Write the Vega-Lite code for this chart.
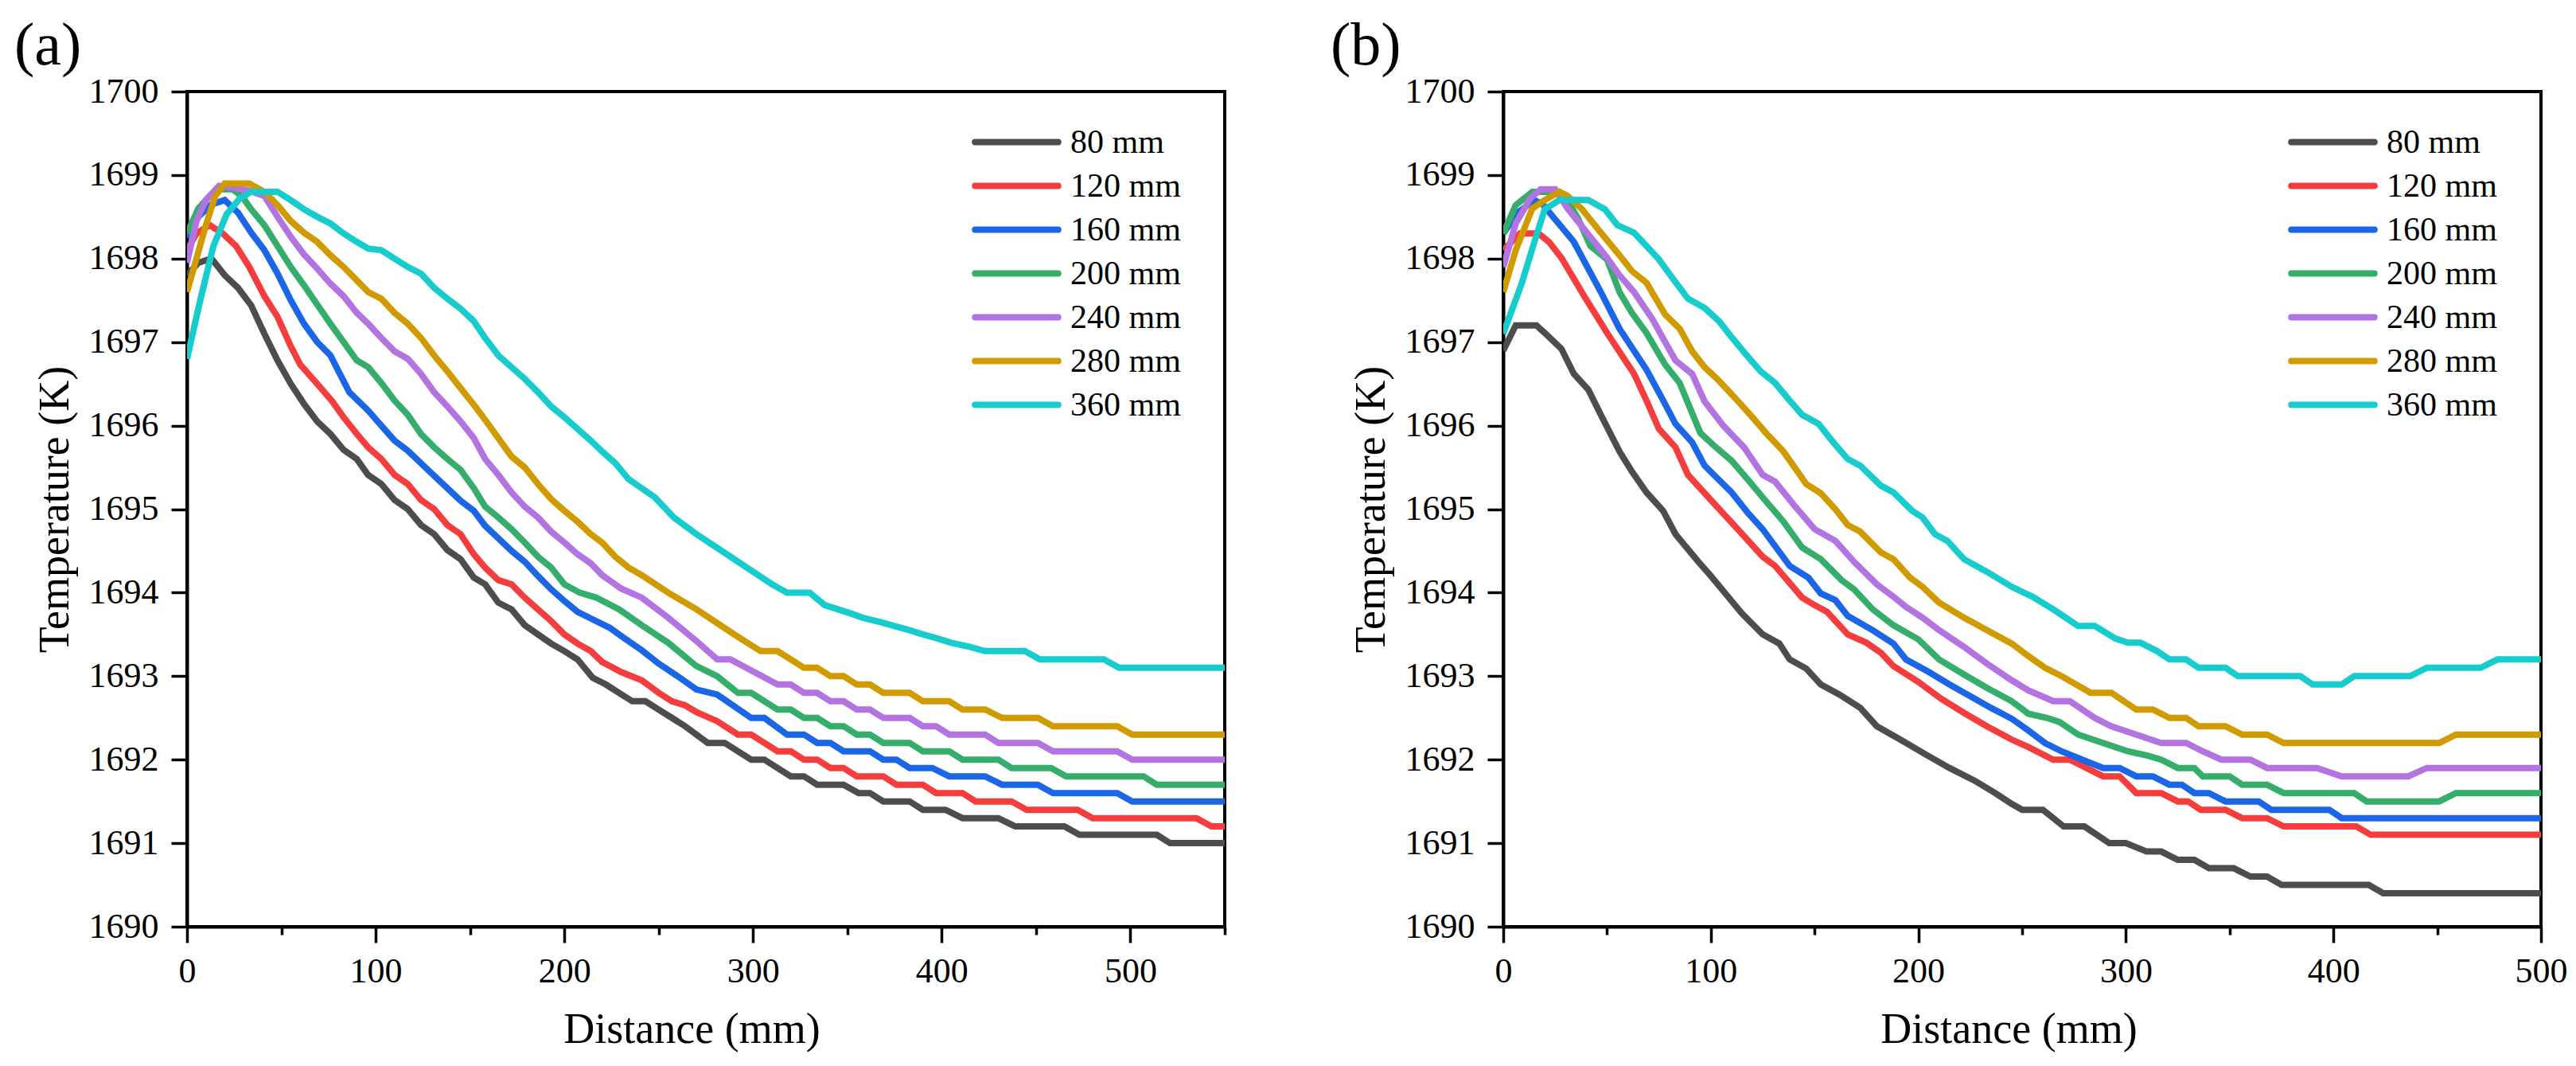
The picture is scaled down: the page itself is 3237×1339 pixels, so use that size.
{
  "$schema": "https://vega.github.io/schema/vega-lite/v6.json",
  "padding": {"left": 16, "top": 18, "right": 13, "bottom": 8},
  "config": {
    "font": "Liberation Serif, Times New Roman, DejaVu Serif, serif",
    "view": {"stroke": "black", "strokeWidth": 4},
    "style": {
      "guide-label": {"font": "Liberation Serif, Times New Roman, DejaVu Serif, serif"},
      "guide-title": {"font": "Liberation Serif, Times New Roman, DejaVu Serif, serif"}
    },
    "axis": {
      "domainColor": "black", "domainWidth": 4,
      "tickColor": "black", "tickWidth": 3.5,
      "labelFont": "Liberation Serif, Times New Roman, DejaVu Serif, serif", "labelFontSize": 44, "labelColor": "black",
      "titleFont": "Liberation Serif, Times New Roman, DejaVu Serif, serif", "titleFontSize": 54, "titleFontWeight": "normal", "titleColor": "black",
      "grid": false, "labelOverlap": false, "labelFlush": false
    },
    "legend": {
      "labelFont": "Liberation Serif, Times New Roman, DejaVu Serif, serif", "labelFontSize": 42, "labelColor": "black"
    },
    "title": {"font": "Liberation Serif, Times New Roman, DejaVu Serif, serif", "fontSize": 76, "fontWeight": "normal", "color": "black"}
  },
  "datasets": {
    "temps": [
      {"p":"a","s":"80 mm","d":0,"t":1697.8},{"p":"a","s":"80 mm","d":6,"t":1697.95},{"p":"a","s":"80 mm","d":13,"t":1698.0},{"p":"a","s":"80 mm","d":20,"t":1697.8},{"p":"a","s":"80 mm","d":27,"t":1697.65},{"p":"a","s":"80 mm","d":34,"t":1697.44},{"p":"a","s":"80 mm","d":41,"t":1697.1},{"p":"a","s":"80 mm","d":48,"t":1696.78},{"p":"a","s":"80 mm","d":55,"t":1696.5},{"p":"a","s":"80 mm","d":62,"t":1696.26},{"p":"a","s":"80 mm","d":69,"t":1696.05},{"p":"a","s":"80 mm","d":76,"t":1695.9},{"p":"a","s":"80 mm","d":83,"t":1695.71},{"p":"a","s":"80 mm","d":90,"t":1695.6},{"p":"a","s":"80 mm","d":96,"t":1695.41},{"p":"a","s":"80 mm","d":103,"t":1695.3},{"p":"a","s":"80 mm","d":110,"t":1695.11},{"p":"a","s":"80 mm","d":117,"t":1695.0},{"p":"a","s":"80 mm","d":124,"t":1694.81},{"p":"a","s":"80 mm","d":131,"t":1694.7},{"p":"a","s":"80 mm","d":138,"t":1694.51},{"p":"a","s":"80 mm","d":145,"t":1694.4},{"p":"a","s":"80 mm","d":152,"t":1694.18},{"p":"a","s":"80 mm","d":158,"t":1694.1},{"p":"a","s":"80 mm","d":165,"t":1693.88},{"p":"a","s":"80 mm","d":172,"t":1693.8},{"p":"a","s":"80 mm","d":179,"t":1693.61},{"p":"a","s":"80 mm","d":186,"t":1693.5},{"p":"a","s":"80 mm","d":193,"t":1693.39},{"p":"a","s":"80 mm","d":200,"t":1693.3},{"p":"a","s":"80 mm","d":207,"t":1693.2},{"p":"a","s":"80 mm","d":215,"t":1692.98},{"p":"a","s":"80 mm","d":222,"t":1692.9},{"p":"a","s":"80 mm","d":229,"t":1692.8},{"p":"a","s":"80 mm","d":236,"t":1692.7},{"p":"a","s":"80 mm","d":243,"t":1692.7},{"p":"a","s":"80 mm","d":250,"t":1692.6},{"p":"a","s":"80 mm","d":257,"t":1692.5},{"p":"a","s":"80 mm","d":264,"t":1692.4},{"p":"a","s":"80 mm","d":270,"t":1692.3},{"p":"a","s":"80 mm","d":276,"t":1692.2},{"p":"a","s":"80 mm","d":285,"t":1692.2},{"p":"a","s":"80 mm","d":299,"t":1692.0},{"p":"a","s":"80 mm","d":306,"t":1692.0},{"p":"a","s":"80 mm","d":320,"t":1691.8},{"p":"a","s":"80 mm","d":327,"t":1691.8},{"p":"a","s":"80 mm","d":334,"t":1691.7},{"p":"a","s":"80 mm","d":348,"t":1691.7},{"p":"a","s":"80 mm","d":356,"t":1691.6},{"p":"a","s":"80 mm","d":362,"t":1691.6},{"p":"a","s":"80 mm","d":369,"t":1691.5},{"p":"a","s":"80 mm","d":383,"t":1691.5},{"p":"a","s":"80 mm","d":390,"t":1691.4},{"p":"a","s":"80 mm","d":402,"t":1691.4},{"p":"a","s":"80 mm","d":411,"t":1691.3},{"p":"a","s":"80 mm","d":430,"t":1691.3},{"p":"a","s":"80 mm","d":439,"t":1691.2},{"p":"a","s":"80 mm","d":465,"t":1691.2},{"p":"a","s":"80 mm","d":473,"t":1691.1},{"p":"a","s":"80 mm","d":514,"t":1691.1},{"p":"a","s":"80 mm","d":521,"t":1691.0},{"p":"a","s":"80 mm","d":550,"t":1691.0},

      {"p":"a","s":"120 mm","d":0,"t":1698.1},{"p":"a","s":"120 mm","d":5,"t":1698.3},{"p":"a","s":"120 mm","d":12,"t":1698.4},{"p":"a","s":"120 mm","d":19,"t":1698.3},{"p":"a","s":"120 mm","d":26,"t":1698.15},{"p":"a","s":"120 mm","d":33,"t":1697.9},{"p":"a","s":"120 mm","d":41,"t":1697.55},{"p":"a","s":"120 mm","d":48,"t":1697.3},{"p":"a","s":"120 mm","d":55,"t":1696.95},{"p":"a","s":"120 mm","d":60,"t":1696.73},{"p":"a","s":"120 mm","d":69,"t":1696.5},{"p":"a","s":"120 mm","d":77,"t":1696.29},{"p":"a","s":"120 mm","d":83,"t":1696.1},{"p":"a","s":"120 mm","d":90,"t":1695.9},{"p":"a","s":"120 mm","d":96,"t":1695.74},{"p":"a","s":"120 mm","d":103,"t":1695.6},{"p":"a","s":"120 mm","d":110,"t":1695.41},{"p":"a","s":"120 mm","d":117,"t":1695.3},{"p":"a","s":"120 mm","d":124,"t":1695.11},{"p":"a","s":"120 mm","d":131,"t":1695.0},{"p":"a","s":"120 mm","d":138,"t":1694.81},{"p":"a","s":"120 mm","d":145,"t":1694.7},{"p":"a","s":"120 mm","d":152,"t":1694.46},{"p":"a","s":"120 mm","d":158,"t":1694.3},{"p":"a","s":"120 mm","d":165,"t":1694.15},{"p":"a","s":"120 mm","d":172,"t":1694.1},{"p":"a","s":"120 mm","d":179,"t":1693.94},{"p":"a","s":"120 mm","d":186,"t":1693.8},{"p":"a","s":"120 mm","d":193,"t":1693.66},{"p":"a","s":"120 mm","d":200,"t":1693.5},{"p":"a","s":"120 mm","d":207,"t":1693.39},{"p":"a","s":"120 mm","d":214,"t":1693.3},{"p":"a","s":"120 mm","d":220,"t":1693.17},{"p":"a","s":"120 mm","d":230,"t":1693.05},{"p":"a","s":"120 mm","d":241,"t":1692.95},{"p":"a","s":"120 mm","d":250,"t":1692.8},{"p":"a","s":"120 mm","d":257,"t":1692.7},{"p":"a","s":"120 mm","d":264,"t":1692.65},{"p":"a","s":"120 mm","d":270,"t":1692.57},{"p":"a","s":"120 mm","d":281,"t":1692.46},{"p":"a","s":"120 mm","d":292,"t":1692.3},{"p":"a","s":"120 mm","d":299,"t":1692.3},{"p":"a","s":"120 mm","d":313,"t":1692.1},{"p":"a","s":"120 mm","d":320,"t":1692.1},{"p":"a","s":"120 mm","d":327,"t":1692.0},{"p":"a","s":"120 mm","d":334,"t":1692.0},{"p":"a","s":"120 mm","d":341,"t":1691.9},{"p":"a","s":"120 mm","d":348,"t":1691.9},{"p":"a","s":"120 mm","d":355,"t":1691.8},{"p":"a","s":"120 mm","d":369,"t":1691.8},{"p":"a","s":"120 mm","d":376,"t":1691.7},{"p":"a","s":"120 mm","d":390,"t":1691.7},{"p":"a","s":"120 mm","d":397,"t":1691.6},{"p":"a","s":"120 mm","d":411,"t":1691.6},{"p":"a","s":"120 mm","d":418,"t":1691.5},{"p":"a","s":"120 mm","d":437,"t":1691.5},{"p":"a","s":"120 mm","d":445,"t":1691.4},{"p":"a","s":"120 mm","d":472,"t":1691.4},{"p":"a","s":"120 mm","d":480,"t":1691.3},{"p":"a","s":"120 mm","d":535,"t":1691.3},{"p":"a","s":"120 mm","d":543,"t":1691.2},{"p":"a","s":"120 mm","d":550,"t":1691.2},

      {"p":"a","s":"160 mm","d":0,"t":1698.25},{"p":"a","s":"160 mm","d":6,"t":1698.5},{"p":"a","s":"160 mm","d":13,"t":1698.65},{"p":"a","s":"160 mm","d":20,"t":1698.7},{"p":"a","s":"160 mm","d":27,"t":1698.55},{"p":"a","s":"160 mm","d":34,"t":1698.31},{"p":"a","s":"160 mm","d":41,"t":1698.1},{"p":"a","s":"160 mm","d":48,"t":1697.82},{"p":"a","s":"160 mm","d":55,"t":1697.5},{"p":"a","s":"160 mm","d":62,"t":1697.22},{"p":"a","s":"160 mm","d":69,"t":1697.0},{"p":"a","s":"160 mm","d":76,"t":1696.84},{"p":"a","s":"160 mm","d":86,"t":1696.4},{"p":"a","s":"160 mm","d":96,"t":1696.18},{"p":"a","s":"160 mm","d":103,"t":1696.0},{"p":"a","s":"160 mm","d":110,"t":1695.82},{"p":"a","s":"160 mm","d":117,"t":1695.7},{"p":"a","s":"160 mm","d":124,"t":1695.55},{"p":"a","s":"160 mm","d":131,"t":1695.4},{"p":"a","s":"160 mm","d":138,"t":1695.25},{"p":"a","s":"160 mm","d":145,"t":1695.1},{"p":"a","s":"160 mm","d":152,"t":1694.98},{"p":"a","s":"160 mm","d":158,"t":1694.8},{"p":"a","s":"160 mm","d":165,"t":1694.65},{"p":"a","s":"160 mm","d":172,"t":1694.5},{"p":"a","s":"160 mm","d":179,"t":1694.37},{"p":"a","s":"160 mm","d":186,"t":1694.2},{"p":"a","s":"160 mm","d":193,"t":1694.04},{"p":"a","s":"160 mm","d":200,"t":1693.9},{"p":"a","s":"160 mm","d":207,"t":1693.77},{"p":"a","s":"160 mm","d":215,"t":1693.68},{"p":"a","s":"160 mm","d":224,"t":1693.58},{"p":"a","s":"160 mm","d":232,"t":1693.45},{"p":"a","s":"160 mm","d":241,"t":1693.31},{"p":"a","s":"160 mm","d":250,"t":1693.15},{"p":"a","s":"160 mm","d":260,"t":1693.0},{"p":"a","s":"160 mm","d":270,"t":1692.84},{"p":"a","s":"160 mm","d":281,"t":1692.78},{"p":"a","s":"160 mm","d":299,"t":1692.5},{"p":"a","s":"160 mm","d":306,"t":1692.5},{"p":"a","s":"160 mm","d":318,"t":1692.3},{"p":"a","s":"160 mm","d":327,"t":1692.3},{"p":"a","s":"160 mm","d":334,"t":1692.2},{"p":"a","s":"160 mm","d":341,"t":1692.2},{"p":"a","s":"160 mm","d":348,"t":1692.1},{"p":"a","s":"160 mm","d":362,"t":1692.1},{"p":"a","s":"160 mm","d":369,"t":1692.0},{"p":"a","s":"160 mm","d":376,"t":1692.0},{"p":"a","s":"160 mm","d":383,"t":1691.9},{"p":"a","s":"160 mm","d":395,"t":1691.9},{"p":"a","s":"160 mm","d":404,"t":1691.8},{"p":"a","s":"160 mm","d":423,"t":1691.8},{"p":"a","s":"160 mm","d":432,"t":1691.7},{"p":"a","s":"160 mm","d":451,"t":1691.7},{"p":"a","s":"160 mm","d":459,"t":1691.6},{"p":"a","s":"160 mm","d":493,"t":1691.6},{"p":"a","s":"160 mm","d":501,"t":1691.5},{"p":"a","s":"160 mm","d":550,"t":1691.5},

      {"p":"a","s":"200 mm","d":0,"t":1698.3},{"p":"a","s":"200 mm","d":6,"t":1698.6},{"p":"a","s":"200 mm","d":12,"t":1698.75},{"p":"a","s":"200 mm","d":18,"t":1698.83},{"p":"a","s":"200 mm","d":24,"t":1698.83},{"p":"a","s":"200 mm","d":29,"t":1698.75},{"p":"a","s":"200 mm","d":34,"t":1698.59},{"p":"a","s":"200 mm","d":41,"t":1698.4},{"p":"a","s":"200 mm","d":48,"t":1698.15},{"p":"a","s":"200 mm","d":55,"t":1697.9},{"p":"a","s":"200 mm","d":62,"t":1697.68},{"p":"a","s":"200 mm","d":69,"t":1697.45},{"p":"a","s":"200 mm","d":76,"t":1697.22},{"p":"a","s":"200 mm","d":83,"t":1697.0},{"p":"a","s":"200 mm","d":90,"t":1696.78},{"p":"a","s":"200 mm","d":96,"t":1696.7},{"p":"a","s":"200 mm","d":103,"t":1696.51},{"p":"a","s":"200 mm","d":110,"t":1696.3},{"p":"a","s":"200 mm","d":117,"t":1696.13},{"p":"a","s":"200 mm","d":124,"t":1695.9},{"p":"a","s":"200 mm","d":131,"t":1695.74},{"p":"a","s":"200 mm","d":138,"t":1695.6},{"p":"a","s":"200 mm","d":145,"t":1695.47},{"p":"a","s":"200 mm","d":152,"t":1695.25},{"p":"a","s":"200 mm","d":158,"t":1695.03},{"p":"a","s":"200 mm","d":165,"t":1694.9},{"p":"a","s":"200 mm","d":172,"t":1694.76},{"p":"a","s":"200 mm","d":179,"t":1694.6},{"p":"a","s":"200 mm","d":186,"t":1694.43},{"p":"a","s":"200 mm","d":193,"t":1694.3},{"p":"a","s":"200 mm","d":200,"t":1694.1},{"p":"a","s":"200 mm","d":208,"t":1694.0},{"p":"a","s":"200 mm","d":217,"t":1693.94},{"p":"a","s":"200 mm","d":229,"t":1693.8},{"p":"a","s":"200 mm","d":241,"t":1693.61},{"p":"a","s":"200 mm","d":255,"t":1693.4},{"p":"a","s":"200 mm","d":270,"t":1693.12},{"p":"a","s":"200 mm","d":281,"t":1693.0},{"p":"a","s":"200 mm","d":292,"t":1692.8},{"p":"a","s":"200 mm","d":299,"t":1692.8},{"p":"a","s":"200 mm","d":313,"t":1692.6},{"p":"a","s":"200 mm","d":320,"t":1692.6},{"p":"a","s":"200 mm","d":327,"t":1692.5},{"p":"a","s":"200 mm","d":334,"t":1692.5},{"p":"a","s":"200 mm","d":341,"t":1692.4},{"p":"a","s":"200 mm","d":348,"t":1692.4},{"p":"a","s":"200 mm","d":355,"t":1692.3},{"p":"a","s":"200 mm","d":362,"t":1692.3},{"p":"a","s":"200 mm","d":369,"t":1692.2},{"p":"a","s":"200 mm","d":383,"t":1692.2},{"p":"a","s":"200 mm","d":390,"t":1692.1},{"p":"a","s":"200 mm","d":404,"t":1692.1},{"p":"a","s":"200 mm","d":411,"t":1692.0},{"p":"a","s":"200 mm","d":430,"t":1692.0},{"p":"a","s":"200 mm","d":437,"t":1691.9},{"p":"a","s":"200 mm","d":458,"t":1691.9},{"p":"a","s":"200 mm","d":466,"t":1691.8},{"p":"a","s":"200 mm","d":507,"t":1691.8},{"p":"a","s":"200 mm","d":514,"t":1691.7},{"p":"a","s":"200 mm","d":550,"t":1691.7},

      {"p":"a","s":"240 mm","d":0,"t":1697.95},{"p":"a","s":"240 mm","d":5,"t":1698.45},{"p":"a","s":"240 mm","d":10,"t":1698.7},{"p":"a","s":"240 mm","d":17,"t":1698.87},{"p":"a","s":"240 mm","d":24,"t":1698.85},{"p":"a","s":"240 mm","d":32,"t":1698.82},{"p":"a","s":"240 mm","d":41,"t":1698.75},{"p":"a","s":"240 mm","d":48,"t":1698.5},{"p":"a","s":"240 mm","d":55,"t":1698.26},{"p":"a","s":"240 mm","d":62,"t":1698.05},{"p":"a","s":"240 mm","d":69,"t":1697.88},{"p":"a","s":"240 mm","d":76,"t":1697.7},{"p":"a","s":"240 mm","d":83,"t":1697.55},{"p":"a","s":"240 mm","d":90,"t":1697.35},{"p":"a","s":"240 mm","d":96,"t":1697.22},{"p":"a","s":"240 mm","d":103,"t":1697.05},{"p":"a","s":"240 mm","d":110,"t":1696.89},{"p":"a","s":"240 mm","d":117,"t":1696.8},{"p":"a","s":"240 mm","d":124,"t":1696.62},{"p":"a","s":"240 mm","d":131,"t":1696.4},{"p":"a","s":"240 mm","d":138,"t":1696.23},{"p":"a","s":"240 mm","d":145,"t":1696.05},{"p":"a","s":"240 mm","d":152,"t":1695.85},{"p":"a","s":"240 mm","d":158,"t":1695.6},{"p":"a","s":"240 mm","d":165,"t":1695.41},{"p":"a","s":"240 mm","d":172,"t":1695.2},{"p":"a","s":"240 mm","d":179,"t":1695.03},{"p":"a","s":"240 mm","d":186,"t":1694.9},{"p":"a","s":"240 mm","d":193,"t":1694.73},{"p":"a","s":"240 mm","d":200,"t":1694.6},{"p":"a","s":"240 mm","d":207,"t":1694.46},{"p":"a","s":"240 mm","d":214,"t":1694.35},{"p":"a","s":"240 mm","d":220,"t":1694.21},{"p":"a","s":"240 mm","d":230,"t":1694.05},{"p":"a","s":"240 mm","d":241,"t":1693.94},{"p":"a","s":"240 mm","d":255,"t":1693.7},{"p":"a","s":"240 mm","d":270,"t":1693.42},{"p":"a","s":"240 mm","d":281,"t":1693.2},{"p":"a","s":"240 mm","d":288,"t":1693.2},{"p":"a","s":"240 mm","d":313,"t":1692.9},{"p":"a","s":"240 mm","d":320,"t":1692.9},{"p":"a","s":"240 mm","d":327,"t":1692.8},{"p":"a","s":"240 mm","d":334,"t":1692.8},{"p":"a","s":"240 mm","d":341,"t":1692.7},{"p":"a","s":"240 mm","d":348,"t":1692.7},{"p":"a","s":"240 mm","d":355,"t":1692.6},{"p":"a","s":"240 mm","d":362,"t":1692.6},{"p":"a","s":"240 mm","d":369,"t":1692.5},{"p":"a","s":"240 mm","d":383,"t":1692.5},{"p":"a","s":"240 mm","d":390,"t":1692.4},{"p":"a","s":"240 mm","d":397,"t":1692.4},{"p":"a","s":"240 mm","d":404,"t":1692.3},{"p":"a","s":"240 mm","d":423,"t":1692.3},{"p":"a","s":"240 mm","d":430,"t":1692.2},{"p":"a","s":"240 mm","d":451,"t":1692.2},{"p":"a","s":"240 mm","d":459,"t":1692.1},{"p":"a","s":"240 mm","d":493,"t":1692.1},{"p":"a","s":"240 mm","d":501,"t":1692.0},{"p":"a","s":"240 mm","d":550,"t":1692.0},

      {"p":"a","s":"280 mm","d":0,"t":1697.6},{"p":"a","s":"280 mm","d":5,"t":1698.0},{"p":"a","s":"280 mm","d":10,"t":1698.4},{"p":"a","s":"280 mm","d":15,"t":1698.75},{"p":"a","s":"280 mm","d":20,"t":1698.9},{"p":"a","s":"280 mm","d":33,"t":1698.9},{"p":"a","s":"280 mm","d":41,"t":1698.8},{"p":"a","s":"280 mm","d":48,"t":1698.64},{"p":"a","s":"280 mm","d":55,"t":1698.45},{"p":"a","s":"280 mm","d":62,"t":1698.31},{"p":"a","s":"280 mm","d":69,"t":1698.2},{"p":"a","s":"280 mm","d":76,"t":1698.04},{"p":"a","s":"280 mm","d":83,"t":1697.9},{"p":"a","s":"280 mm","d":90,"t":1697.74},{"p":"a","s":"280 mm","d":96,"t":1697.6},{"p":"a","s":"280 mm","d":103,"t":1697.52},{"p":"a","s":"280 mm","d":110,"t":1697.35},{"p":"a","s":"280 mm","d":117,"t":1697.22},{"p":"a","s":"280 mm","d":124,"t":1697.05},{"p":"a","s":"280 mm","d":131,"t":1696.84},{"p":"a","s":"280 mm","d":138,"t":1696.65},{"p":"a","s":"280 mm","d":145,"t":1696.45},{"p":"a","s":"280 mm","d":152,"t":1696.25},{"p":"a","s":"280 mm","d":158,"t":1696.07},{"p":"a","s":"280 mm","d":165,"t":1695.85},{"p":"a","s":"280 mm","d":172,"t":1695.63},{"p":"a","s":"280 mm","d":179,"t":1695.5},{"p":"a","s":"280 mm","d":186,"t":1695.3},{"p":"a","s":"280 mm","d":193,"t":1695.12},{"p":"a","s":"280 mm","d":200,"t":1694.98},{"p":"a","s":"280 mm","d":207,"t":1694.85},{"p":"a","s":"280 mm","d":214,"t":1694.7},{"p":"a","s":"280 mm","d":220,"t":1694.6},{"p":"a","s":"280 mm","d":227,"t":1694.43},{"p":"a","s":"280 mm","d":234,"t":1694.3},{"p":"a","s":"280 mm","d":241,"t":1694.21},{"p":"a","s":"280 mm","d":255,"t":1694.0},{"p":"a","s":"280 mm","d":270,"t":1693.8},{"p":"a","s":"280 mm","d":280,"t":1693.65},{"p":"a","s":"280 mm","d":290,"t":1693.5},{"p":"a","s":"280 mm","d":297,"t":1693.4},{"p":"a","s":"280 mm","d":304,"t":1693.3},{"p":"a","s":"280 mm","d":313,"t":1693.3},{"p":"a","s":"280 mm","d":327,"t":1693.1},{"p":"a","s":"280 mm","d":334,"t":1693.1},{"p":"a","s":"280 mm","d":341,"t":1693.0},{"p":"a","s":"280 mm","d":348,"t":1693.0},{"p":"a","s":"280 mm","d":355,"t":1692.9},{"p":"a","s":"280 mm","d":362,"t":1692.9},{"p":"a","s":"280 mm","d":369,"t":1692.8},{"p":"a","s":"280 mm","d":383,"t":1692.8},{"p":"a","s":"280 mm","d":390,"t":1692.7},{"p":"a","s":"280 mm","d":404,"t":1692.7},{"p":"a","s":"280 mm","d":411,"t":1692.6},{"p":"a","s":"280 mm","d":423,"t":1692.6},{"p":"a","s":"280 mm","d":432,"t":1692.5},{"p":"a","s":"280 mm","d":451,"t":1692.5},{"p":"a","s":"280 mm","d":459,"t":1692.4},{"p":"a","s":"280 mm","d":493,"t":1692.4},{"p":"a","s":"280 mm","d":501,"t":1692.3},{"p":"a","s":"280 mm","d":550,"t":1692.3},

      {"p":"a","s":"360 mm","d":0,"t":1696.8},{"p":"a","s":"360 mm","d":7,"t":1697.5},{"p":"a","s":"360 mm","d":14,"t":1698.15},{"p":"a","s":"360 mm","d":21,"t":1698.53},{"p":"a","s":"360 mm","d":28,"t":1698.72},{"p":"a","s":"360 mm","d":34,"t":1698.8},{"p":"a","s":"360 mm","d":48,"t":1698.8},{"p":"a","s":"360 mm","d":55,"t":1698.7},{"p":"a","s":"360 mm","d":62,"t":1698.59},{"p":"a","s":"360 mm","d":69,"t":1698.5},{"p":"a","s":"360 mm","d":76,"t":1698.42},{"p":"a","s":"360 mm","d":83,"t":1698.3},{"p":"a","s":"360 mm","d":90,"t":1698.2},{"p":"a","s":"360 mm","d":96,"t":1698.12},{"p":"a","s":"360 mm","d":103,"t":1698.1},{"p":"a","s":"360 mm","d":110,"t":1698.0},{"p":"a","s":"360 mm","d":117,"t":1697.9},{"p":"a","s":"360 mm","d":124,"t":1697.82},{"p":"a","s":"360 mm","d":131,"t":1697.65},{"p":"a","s":"360 mm","d":138,"t":1697.52},{"p":"a","s":"360 mm","d":145,"t":1697.4},{"p":"a","s":"360 mm","d":152,"t":1697.25},{"p":"a","s":"360 mm","d":158,"t":1697.05},{"p":"a","s":"360 mm","d":165,"t":1696.84},{"p":"a","s":"360 mm","d":172,"t":1696.7},{"p":"a","s":"360 mm","d":179,"t":1696.56},{"p":"a","s":"360 mm","d":186,"t":1696.4},{"p":"a","s":"360 mm","d":193,"t":1696.23},{"p":"a","s":"360 mm","d":200,"t":1696.1},{"p":"a","s":"360 mm","d":207,"t":1695.96},{"p":"a","s":"360 mm","d":214,"t":1695.82},{"p":"a","s":"360 mm","d":220,"t":1695.69},{"p":"a","s":"360 mm","d":227,"t":1695.55},{"p":"a","s":"360 mm","d":234,"t":1695.36},{"p":"a","s":"360 mm","d":241,"t":1695.25},{"p":"a","s":"360 mm","d":248,"t":1695.14},{"p":"a","s":"360 mm","d":258,"t":1694.9},{"p":"a","s":"360 mm","d":270,"t":1694.7},{"p":"a","s":"360 mm","d":280,"t":1694.55},{"p":"a","s":"360 mm","d":290,"t":1694.4},{"p":"a","s":"360 mm","d":300,"t":1694.25},{"p":"a","s":"360 mm","d":310,"t":1694.1},{"p":"a","s":"360 mm","d":318,"t":1694.0},{"p":"a","s":"360 mm","d":330,"t":1694.0},{"p":"a","s":"360 mm","d":338,"t":1693.85},{"p":"a","s":"360 mm","d":345,"t":1693.8},{"p":"a","s":"360 mm","d":352,"t":1693.75},{"p":"a","s":"360 mm","d":358,"t":1693.7},{"p":"a","s":"360 mm","d":367,"t":1693.65},{"p":"a","s":"360 mm","d":375,"t":1693.6},{"p":"a","s":"360 mm","d":383,"t":1693.55},{"p":"a","s":"360 mm","d":390,"t":1693.5},{"p":"a","s":"360 mm","d":398,"t":1693.45},{"p":"a","s":"360 mm","d":405,"t":1693.4},{"p":"a","s":"360 mm","d":415,"t":1693.35},{"p":"a","s":"360 mm","d":423,"t":1693.3},{"p":"a","s":"360 mm","d":444,"t":1693.3},{"p":"a","s":"360 mm","d":452,"t":1693.2},{"p":"a","s":"360 mm","d":486,"t":1693.2},{"p":"a","s":"360 mm","d":494,"t":1693.1},{"p":"a","s":"360 mm","d":550,"t":1693.1},

      {"p":"b","s":"80 mm","d":0,"t":1696.9},{"p":"b","s":"80 mm","d":6,"t":1697.2},{"p":"b","s":"80 mm","d":16,"t":1697.2},{"p":"b","s":"80 mm","d":20,"t":1697.11},{"p":"b","s":"80 mm","d":28,"t":1696.92},{"p":"b","s":"80 mm","d":34,"t":1696.62},{"p":"b","s":"80 mm","d":41,"t":1696.43},{"p":"b","s":"80 mm","d":47,"t":1696.13},{"p":"b","s":"80 mm","d":56,"t":1695.69},{"p":"b","s":"80 mm","d":62,"t":1695.45},{"p":"b","s":"80 mm","d":69,"t":1695.2},{"p":"b","s":"80 mm","d":77,"t":1694.98},{"p":"b","s":"80 mm","d":83,"t":1694.7},{"p":"b","s":"80 mm","d":94,"t":1694.37},{"p":"b","s":"80 mm","d":100,"t":1694.2},{"p":"b","s":"80 mm","d":106,"t":1694.02},{"p":"b","s":"80 mm","d":115,"t":1693.75},{"p":"b","s":"80 mm","d":125,"t":1693.5},{"p":"b","s":"80 mm","d":133,"t":1693.39},{"p":"b","s":"80 mm","d":138,"t":1693.2},{"p":"b","s":"80 mm","d":146,"t":1693.09},{"p":"b","s":"80 mm","d":153,"t":1692.9},{"p":"b","s":"80 mm","d":162,"t":1692.78},{"p":"b","s":"80 mm","d":172,"t":1692.62},{"p":"b","s":"80 mm","d":180,"t":1692.4},{"p":"b","s":"80 mm","d":192,"t":1692.23},{"p":"b","s":"80 mm","d":203,"t":1692.07},{"p":"b","s":"80 mm","d":215,"t":1691.9},{"p":"b","s":"80 mm","d":227,"t":1691.75},{"p":"b","s":"80 mm","d":237,"t":1691.6},{"p":"b","s":"80 mm","d":245,"t":1691.47},{"p":"b","s":"80 mm","d":250,"t":1691.4},{"p":"b","s":"80 mm","d":260,"t":1691.4},{"p":"b","s":"80 mm","d":270,"t":1691.2},{"p":"b","s":"80 mm","d":280,"t":1691.2},{"p":"b","s":"80 mm","d":292,"t":1691.0},{"p":"b","s":"80 mm","d":300,"t":1691.0},{"p":"b","s":"80 mm","d":310,"t":1690.9},{"p":"b","s":"80 mm","d":317,"t":1690.9},{"p":"b","s":"80 mm","d":325,"t":1690.8},{"p":"b","s":"80 mm","d":333,"t":1690.8},{"p":"b","s":"80 mm","d":340,"t":1690.7},{"p":"b","s":"80 mm","d":352,"t":1690.7},{"p":"b","s":"80 mm","d":360,"t":1690.6},{"p":"b","s":"80 mm","d":368,"t":1690.6},{"p":"b","s":"80 mm","d":375,"t":1690.5},{"p":"b","s":"80 mm","d":417,"t":1690.5},{"p":"b","s":"80 mm","d":424,"t":1690.4},{"p":"b","s":"80 mm","d":500,"t":1690.4},

      {"p":"b","s":"120 mm","d":0,"t":1698.1},{"p":"b","s":"120 mm","d":8,"t":1698.3},{"p":"b","s":"120 mm","d":17,"t":1698.3},{"p":"b","s":"120 mm","d":22,"t":1698.2},{"p":"b","s":"120 mm","d":28,"t":1698.01},{"p":"b","s":"120 mm","d":39,"t":1697.55},{"p":"b","s":"120 mm","d":50,"t":1697.11},{"p":"b","s":"120 mm","d":63,"t":1696.62},{"p":"b","s":"120 mm","d":69,"t":1696.3},{"p":"b","s":"120 mm","d":75,"t":1695.96},{"p":"b","s":"120 mm","d":83,"t":1695.74},{"p":"b","s":"120 mm","d":89,"t":1695.41},{"p":"b","s":"120 mm","d":100,"t":1695.11},{"p":"b","s":"120 mm","d":113,"t":1694.76},{"p":"b","s":"120 mm","d":125,"t":1694.43},{"p":"b","s":"120 mm","d":131,"t":1694.32},{"p":"b","s":"120 mm","d":144,"t":1693.94},{"p":"b","s":"120 mm","d":150,"t":1693.85},{"p":"b","s":"120 mm","d":156,"t":1693.77},{"p":"b","s":"120 mm","d":166,"t":1693.5},{"p":"b","s":"120 mm","d":175,"t":1693.4},{"p":"b","s":"120 mm","d":182,"t":1693.28},{"p":"b","s":"120 mm","d":188,"t":1693.12},{"p":"b","s":"120 mm","d":200,"t":1692.93},{"p":"b","s":"120 mm","d":211,"t":1692.73},{"p":"b","s":"120 mm","d":222,"t":1692.56},{"p":"b","s":"120 mm","d":233,"t":1692.4},{"p":"b","s":"120 mm","d":245,"t":1692.24},{"p":"b","s":"120 mm","d":253,"t":1692.15},{"p":"b","s":"120 mm","d":265,"t":1692.0},{"p":"b","s":"120 mm","d":273,"t":1692.0},{"p":"b","s":"120 mm","d":289,"t":1691.8},{"p":"b","s":"120 mm","d":297,"t":1691.8},{"p":"b","s":"120 mm","d":305,"t":1691.6},{"p":"b","s":"120 mm","d":317,"t":1691.6},{"p":"b","s":"120 mm","d":325,"t":1691.5},{"p":"b","s":"120 mm","d":330,"t":1691.5},{"p":"b","s":"120 mm","d":336,"t":1691.4},{"p":"b","s":"120 mm","d":348,"t":1691.4},{"p":"b","s":"120 mm","d":356,"t":1691.3},{"p":"b","s":"120 mm","d":368,"t":1691.3},{"p":"b","s":"120 mm","d":376,"t":1691.2},{"p":"b","s":"120 mm","d":411,"t":1691.2},{"p":"b","s":"120 mm","d":418,"t":1691.1},{"p":"b","s":"120 mm","d":500,"t":1691.1},

      {"p":"b","s":"160 mm","d":0,"t":1698.3},{"p":"b","s":"160 mm","d":7,"t":1698.55},{"p":"b","s":"160 mm","d":15,"t":1698.7},{"p":"b","s":"160 mm","d":19,"t":1698.65},{"p":"b","s":"160 mm","d":23,"t":1698.53},{"p":"b","s":"160 mm","d":34,"t":1698.2},{"p":"b","s":"160 mm","d":47,"t":1697.6},{"p":"b","s":"160 mm","d":56,"t":1697.16},{"p":"b","s":"160 mm","d":69,"t":1696.67},{"p":"b","s":"160 mm","d":76,"t":1696.35},{"p":"b","s":"160 mm","d":83,"t":1696.02},{"p":"b","s":"160 mm","d":91,"t":1695.8},{"p":"b","s":"160 mm","d":97,"t":1695.52},{"p":"b","s":"160 mm","d":110,"t":1695.2},{"p":"b","s":"160 mm","d":118,"t":1694.95},{"p":"b","s":"160 mm","d":125,"t":1694.76},{"p":"b","s":"160 mm","d":138,"t":1694.32},{"p":"b","s":"160 mm","d":147,"t":1694.18},{"p":"b","s":"160 mm","d":153,"t":1693.99},{"p":"b","s":"160 mm","d":160,"t":1693.91},{"p":"b","s":"160 mm","d":166,"t":1693.72},{"p":"b","s":"160 mm","d":178,"t":1693.55},{"p":"b","s":"160 mm","d":188,"t":1693.39},{"p":"b","s":"160 mm","d":194,"t":1693.2},{"p":"b","s":"160 mm","d":205,"t":1693.05},{"p":"b","s":"160 mm","d":215,"t":1692.9},{"p":"b","s":"160 mm","d":225,"t":1692.76},{"p":"b","s":"160 mm","d":235,"t":1692.62},{"p":"b","s":"160 mm","d":245,"t":1692.49},{"p":"b","s":"160 mm","d":253,"t":1692.35},{"p":"b","s":"160 mm","d":261,"t":1692.2},{"p":"b","s":"160 mm","d":269,"t":1692.1},{"p":"b","s":"160 mm","d":279,"t":1692.0},{"p":"b","s":"160 mm","d":289,"t":1691.9},{"p":"b","s":"160 mm","d":297,"t":1691.9},{"p":"b","s":"160 mm","d":305,"t":1691.8},{"p":"b","s":"160 mm","d":313,"t":1691.8},{"p":"b","s":"160 mm","d":321,"t":1691.7},{"p":"b","s":"160 mm","d":327,"t":1691.7},{"p":"b","s":"160 mm","d":333,"t":1691.6},{"p":"b","s":"160 mm","d":340,"t":1691.6},{"p":"b","s":"160 mm","d":348,"t":1691.5},{"p":"b","s":"160 mm","d":364,"t":1691.5},{"p":"b","s":"160 mm","d":370,"t":1691.4},{"p":"b","s":"160 mm","d":398,"t":1691.4},{"p":"b","s":"160 mm","d":404,"t":1691.3},{"p":"b","s":"160 mm","d":500,"t":1691.3},

      {"p":"b","s":"200 mm","d":0,"t":1698.3},{"p":"b","s":"200 mm","d":6,"t":1698.64},{"p":"b","s":"200 mm","d":14,"t":1698.8},{"p":"b","s":"200 mm","d":27,"t":1698.8},{"p":"b","s":"200 mm","d":32,"t":1698.65},{"p":"b","s":"200 mm","d":36,"t":1698.48},{"p":"b","s":"200 mm","d":42,"t":1698.15},{"p":"b","s":"200 mm","d":50,"t":1697.99},{"p":"b","s":"200 mm","d":56,"t":1697.6},{"p":"b","s":"200 mm","d":62,"t":1697.35},{"p":"b","s":"200 mm","d":69,"t":1697.11},{"p":"b","s":"200 mm","d":78,"t":1696.73},{"p":"b","s":"200 mm","d":85,"t":1696.51},{"p":"b","s":"200 mm","d":95,"t":1695.91},{"p":"b","s":"200 mm","d":102,"t":1695.75},{"p":"b","s":"200 mm","d":110,"t":1695.58},{"p":"b","s":"200 mm","d":118,"t":1695.35},{"p":"b","s":"200 mm","d":125,"t":1695.14},{"p":"b","s":"200 mm","d":135,"t":1694.85},{"p":"b","s":"200 mm","d":144,"t":1694.54},{"p":"b","s":"200 mm","d":153,"t":1694.4},{"p":"b","s":"200 mm","d":163,"t":1694.15},{"p":"b","s":"200 mm","d":169,"t":1694.04},{"p":"b","s":"200 mm","d":178,"t":1693.8},{"p":"b","s":"200 mm","d":188,"t":1693.61},{"p":"b","s":"200 mm","d":200,"t":1693.44},{"p":"b","s":"200 mm","d":210,"t":1693.2},{"p":"b","s":"200 mm","d":222,"t":1693.02},{"p":"b","s":"200 mm","d":233,"t":1692.86},{"p":"b","s":"200 mm","d":245,"t":1692.7},{"p":"b","s":"200 mm","d":253,"t":1692.55},{"p":"b","s":"200 mm","d":262,"t":1692.5},{"p":"b","s":"200 mm","d":268,"t":1692.45},{"p":"b","s":"200 mm","d":277,"t":1692.3},{"p":"b","s":"200 mm","d":283,"t":1692.25},{"p":"b","s":"200 mm","d":289,"t":1692.2},{"p":"b","s":"200 mm","d":295,"t":1692.15},{"p":"b","s":"200 mm","d":301,"t":1692.1},{"p":"b","s":"200 mm","d":310,"t":1692.05},{"p":"b","s":"200 mm","d":317,"t":1692.0},{"p":"b","s":"200 mm","d":325,"t":1691.9},{"p":"b","s":"200 mm","d":333,"t":1691.9},{"p":"b","s":"200 mm","d":337,"t":1691.8},{"p":"b","s":"200 mm","d":350,"t":1691.8},{"p":"b","s":"200 mm","d":356,"t":1691.7},{"p":"b","s":"200 mm","d":368,"t":1691.7},{"p":"b","s":"200 mm","d":376,"t":1691.6},{"p":"b","s":"200 mm","d":410,"t":1691.6},{"p":"b","s":"200 mm","d":416,"t":1691.5},{"p":"b","s":"200 mm","d":451,"t":1691.5},{"p":"b","s":"200 mm","d":459,"t":1691.6},{"p":"b","s":"200 mm","d":500,"t":1691.6},

      {"p":"b","s":"240 mm","d":0,"t":1697.9},{"p":"b","s":"240 mm","d":6,"t":1698.42},{"p":"b","s":"240 mm","d":13,"t":1698.72},{"p":"b","s":"240 mm","d":18,"t":1698.83},{"p":"b","s":"240 mm","d":25,"t":1698.83},{"p":"b","s":"240 mm","d":31,"t":1698.6},{"p":"b","s":"240 mm","d":41,"t":1698.29},{"p":"b","s":"240 mm","d":50,"t":1698.01},{"p":"b","s":"240 mm","d":56,"t":1697.8},{"p":"b","s":"240 mm","d":63,"t":1697.6},{"p":"b","s":"240 mm","d":72,"t":1697.27},{"p":"b","s":"240 mm","d":78,"t":1697.0},{"p":"b","s":"240 mm","d":83,"t":1696.78},{"p":"b","s":"240 mm","d":91,"t":1696.62},{"p":"b","s":"240 mm","d":97,"t":1696.29},{"p":"b","s":"240 mm","d":106,"t":1696.0},{"p":"b","s":"240 mm","d":116,"t":1695.74},{"p":"b","s":"240 mm","d":125,"t":1695.41},{"p":"b","s":"240 mm","d":131,"t":1695.33},{"p":"b","s":"240 mm","d":140,"t":1695.05},{"p":"b","s":"240 mm","d":150,"t":1694.76},{"p":"b","s":"240 mm","d":160,"t":1694.62},{"p":"b","s":"240 mm","d":169,"t":1694.37},{"p":"b","s":"240 mm","d":180,"t":1694.1},{"p":"b","s":"240 mm","d":188,"t":1693.95},{"p":"b","s":"240 mm","d":194,"t":1693.83},{"p":"b","s":"240 mm","d":202,"t":1693.7},{"p":"b","s":"240 mm","d":210,"t":1693.55},{"p":"b","s":"240 mm","d":222,"t":1693.35},{"p":"b","s":"240 mm","d":233,"t":1693.15},{"p":"b","s":"240 mm","d":245,"t":1692.95},{"p":"b","s":"240 mm","d":253,"t":1692.83},{"p":"b","s":"240 mm","d":265,"t":1692.7},{"p":"b","s":"240 mm","d":273,"t":1692.7},{"p":"b","s":"240 mm","d":285,"t":1692.5},{"p":"b","s":"240 mm","d":293,"t":1692.4},{"p":"b","s":"240 mm","d":305,"t":1692.3},{"p":"b","s":"240 mm","d":317,"t":1692.2},{"p":"b","s":"240 mm","d":329,"t":1692.2},{"p":"b","s":"240 mm","d":337,"t":1692.1},{"p":"b","s":"240 mm","d":346,"t":1692.0},{"p":"b","s":"240 mm","d":360,"t":1692.0},{"p":"b","s":"240 mm","d":368,"t":1691.9},{"p":"b","s":"240 mm","d":392,"t":1691.9},{"p":"b","s":"240 mm","d":404,"t":1691.8},{"p":"b","s":"240 mm","d":436,"t":1691.8},{"p":"b","s":"240 mm","d":445,"t":1691.9},{"p":"b","s":"240 mm","d":500,"t":1691.9},

      {"p":"b","s":"280 mm","d":0,"t":1697.6},{"p":"b","s":"280 mm","d":6,"t":1698.1},{"p":"b","s":"280 mm","d":14,"t":1698.6},{"p":"b","s":"280 mm","d":20,"t":1698.7},{"p":"b","s":"280 mm","d":27,"t":1698.8},{"p":"b","s":"280 mm","d":31,"t":1698.75},{"p":"b","s":"280 mm","d":38,"t":1698.59},{"p":"b","s":"280 mm","d":47,"t":1698.31},{"p":"b","s":"280 mm","d":56,"t":1698.04},{"p":"b","s":"280 mm","d":62,"t":1697.85},{"p":"b","s":"280 mm","d":69,"t":1697.71},{"p":"b","s":"280 mm","d":78,"t":1697.33},{"p":"b","s":"280 mm","d":85,"t":1697.16},{"p":"b","s":"280 mm","d":91,"t":1696.89},{"p":"b","s":"280 mm","d":97,"t":1696.7},{"p":"b","s":"280 mm","d":103,"t":1696.56},{"p":"b","s":"280 mm","d":111,"t":1696.35},{"p":"b","s":"280 mm","d":119,"t":1696.13},{"p":"b","s":"280 mm","d":127,"t":1695.9},{"p":"b","s":"280 mm","d":135,"t":1695.69},{"p":"b","s":"280 mm","d":146,"t":1695.3},{"p":"b","s":"280 mm","d":153,"t":1695.19},{"p":"b","s":"280 mm","d":160,"t":1695.0},{"p":"b","s":"280 mm","d":166,"t":1694.81},{"p":"b","s":"280 mm","d":172,"t":1694.73},{"p":"b","s":"280 mm","d":182,"t":1694.48},{"p":"b","s":"280 mm","d":188,"t":1694.4},{"p":"b","s":"280 mm","d":196,"t":1694.18},{"p":"b","s":"280 mm","d":202,"t":1694.07},{"p":"b","s":"280 mm","d":210,"t":1693.88},{"p":"b","s":"280 mm","d":222,"t":1693.7},{"p":"b","s":"280 mm","d":233,"t":1693.55},{"p":"b","s":"280 mm","d":245,"t":1693.39},{"p":"b","s":"280 mm","d":253,"t":1693.24},{"p":"b","s":"280 mm","d":261,"t":1693.1},{"p":"b","s":"280 mm","d":269,"t":1693.0},{"p":"b","s":"280 mm","d":276,"t":1692.9},{"p":"b","s":"280 mm","d":283,"t":1692.8},{"p":"b","s":"280 mm","d":293,"t":1692.8},{"p":"b","s":"280 mm","d":305,"t":1692.6},{"p":"b","s":"280 mm","d":313,"t":1692.6},{"p":"b","s":"280 mm","d":321,"t":1692.5},{"p":"b","s":"280 mm","d":329,"t":1692.5},{"p":"b","s":"280 mm","d":335,"t":1692.4},{"p":"b","s":"280 mm","d":348,"t":1692.4},{"p":"b","s":"280 mm","d":356,"t":1692.3},{"p":"b","s":"280 mm","d":368,"t":1692.3},{"p":"b","s":"280 mm","d":376,"t":1692.2},{"p":"b","s":"280 mm","d":451,"t":1692.2},{"p":"b","s":"280 mm","d":459,"t":1692.3},{"p":"b","s":"280 mm","d":500,"t":1692.3},

      {"p":"b","s":"360 mm","d":0,"t":1697.1},{"p":"b","s":"360 mm","d":9,"t":1697.71},{"p":"b","s":"360 mm","d":15,"t":1698.2},{"p":"b","s":"360 mm","d":20,"t":1698.59},{"p":"b","s":"360 mm","d":27,"t":1698.7},{"p":"b","s":"360 mm","d":41,"t":1698.7},{"p":"b","s":"360 mm","d":49,"t":1698.59},{"p":"b","s":"360 mm","d":55,"t":1698.4},{"p":"b","s":"360 mm","d":63,"t":1698.31},{"p":"b","s":"360 mm","d":69,"t":1698.15},{"p":"b","s":"360 mm","d":75,"t":1697.99},{"p":"b","s":"360 mm","d":82,"t":1697.75},{"p":"b","s":"360 mm","d":89,"t":1697.52},{"p":"b","s":"360 mm","d":97,"t":1697.41},{"p":"b","s":"360 mm","d":104,"t":1697.25},{"p":"b","s":"360 mm","d":110,"t":1697.06},{"p":"b","s":"360 mm","d":117,"t":1696.85},{"p":"b","s":"360 mm","d":124,"t":1696.65},{"p":"b","s":"360 mm","d":131,"t":1696.51},{"p":"b","s":"360 mm","d":138,"t":1696.3},{"p":"b","s":"360 mm","d":144,"t":1696.13},{"p":"b","s":"360 mm","d":152,"t":1696.02},{"p":"b","s":"360 mm","d":159,"t":1695.8},{"p":"b","s":"360 mm","d":166,"t":1695.6},{"p":"b","s":"360 mm","d":172,"t":1695.52},{"p":"b","s":"360 mm","d":182,"t":1695.28},{"p":"b","s":"360 mm","d":188,"t":1695.2},{"p":"b","s":"360 mm","d":197,"t":1694.98},{"p":"b","s":"360 mm","d":202,"t":1694.9},{"p":"b","s":"360 mm","d":208,"t":1694.7},{"p":"b","s":"360 mm","d":214,"t":1694.62},{"p":"b","s":"360 mm","d":222,"t":1694.4},{"p":"b","s":"360 mm","d":233,"t":1694.25},{"p":"b","s":"360 mm","d":245,"t":1694.07},{"p":"b","s":"360 mm","d":255,"t":1693.95},{"p":"b","s":"360 mm","d":265,"t":1693.8},{"p":"b","s":"360 mm","d":271,"t":1693.7},{"p":"b","s":"360 mm","d":277,"t":1693.6},{"p":"b","s":"360 mm","d":285,"t":1693.6},{"p":"b","s":"360 mm","d":295,"t":1693.45},{"p":"b","s":"360 mm","d":301,"t":1693.4},{"p":"b","s":"360 mm","d":307,"t":1693.4},{"p":"b","s":"360 mm","d":315,"t":1693.3},{"p":"b","s":"360 mm","d":321,"t":1693.2},{"p":"b","s":"360 mm","d":329,"t":1693.2},{"p":"b","s":"360 mm","d":335,"t":1693.1},{"p":"b","s":"360 mm","d":348,"t":1693.1},{"p":"b","s":"360 mm","d":354,"t":1693.0},{"p":"b","s":"360 mm","d":384,"t":1693.0},{"p":"b","s":"360 mm","d":390,"t":1692.9},{"p":"b","s":"360 mm","d":404,"t":1692.9},{"p":"b","s":"360 mm","d":410,"t":1693.0},{"p":"b","s":"360 mm","d":437,"t":1693.0},{"p":"b","s":"360 mm","d":445,"t":1693.1},{"p":"b","s":"360 mm","d":471,"t":1693.1},{"p":"b","s":"360 mm","d":479,"t":1693.2},{"p":"b","s":"360 mm","d":500,"t":1693.2}
    ]
  },
  "spacing": 350,
  "bounds": "flush",
  "resolve": {
    "scale": {"x": "independent", "y": "independent", "color": "independent"},
    "legend": {"color": "independent"}
  },
  "hconcat": [
    {
      "width": 1304,
      "height": 1049,
      "title": {"text": "(a)", "anchor": "start", "frame": "group", "baseline": "alphabetic", "dx": -217, "offset": -64},
      "data": {"name": "temps"},
      "transform": [{"filter": "datum.p === 'a'"}],
      "mark": {"type": "line", "strokeWidth": 8, "clip": true},
      "encoding": {
        "x": {
          "field": "d", "type": "quantitative",
          "scale": {"domain": [0, 550], "nice": false},
          "axis": {
            "title": "Distance (mm)",
            "labelFont": "Liberation Serif, Times New Roman, DejaVu Serif, serif",
            "titleFont": "Liberation Serif, Times New Roman, DejaVu Serif, serif",
            "values": [0, 50, 100, 150, 200, 250, 300, 350, 400, 450, 500, 550],
            "format": "d",
            "labelExpr": "datum.value % 100 === 0 ? datum.label : ''",
            "tickSize": {"condition": {"test": "datum.value % 100 !== 0", "value": 10}, "value": 20},
            "labelPadding": 14,
            "titlePadding": 24,
            "titleX": 634
          }
        },
        "y": {
          "field": "t", "type": "quantitative",
          "scale": {"domain": [1690, 1700], "nice": false, "zero": false},
          "axis": {
            "title": "Temperature (K)",
            "labelFont": "Liberation Serif, Times New Roman, DejaVu Serif, serif",
            "titleFont": "Liberation Serif, Times New Roman, DejaVu Serif, serif",
            "values": [1690, 1690.5, 1691, 1691.5, 1692, 1692.5, 1693, 1693.5, 1694, 1694.5, 1695, 1695.5, 1696, 1696.5, 1697, 1697.5, 1698, 1698.5, 1699, 1699.5, 1700],
            "format": "d",
            "labelExpr": "datum.value % 1 === 0 ? datum.label : ''",
            "tickSize": {"condition": {"test": "datum.value % 1 !== 0", "value": 10}, "value": 20},
            "labelPadding": 16,
            "titlePadding": 15
          }
        },
        "color": {
          "field": "s", "type": "nominal",
          "scale": {
            "domain": ["80 mm", "120 mm", "160 mm", "200 mm", "240 mm", "280 mm", "360 mm"],
            "range": ["#4d4d4d", "#f53d3d", "#1a66e6", "#35ad6b", "#b373e0", "#d19b00", "#17cccc"]
          },
          "legend": {
            "orient": "none", "legendX": 1011, "legendY": 32, "title": null, "padding": 0,
            "symbolType": "M-1.9,0L1.9,0", "symbolSize": 3025, "symbolStrokeWidth": 8,
            "labelOffset": 36, "rowPadding": 2, "labelLimit": 400,
            "encode": {"symbols": {"update": {"strokeCap": {"value": "round"}}}}
          }
        }
      }
    },
    {
      "width": 1304,
      "height": 1049,
      "title": {"text": "(b)", "anchor": "start", "frame": "group", "baseline": "alphabetic", "dx": -217, "offset": -64},
      "data": {"name": "temps"},
      "transform": [{"filter": "datum.p === 'b'"}],
      "mark": {"type": "line", "strokeWidth": 8, "clip": true},
      "encoding": {
        "x": {
          "field": "d", "type": "quantitative",
          "scale": {"domain": [0, 500], "nice": false},
          "axis": {
            "title": "Distance (mm)",
            "labelFont": "Liberation Serif, Times New Roman, DejaVu Serif, serif",
            "titleFont": "Liberation Serif, Times New Roman, DejaVu Serif, serif",
            "values": [0, 50, 100, 150, 200, 250, 300, 350, 400, 450, 500],
            "format": "d",
            "labelExpr": "datum.value % 100 === 0 ? datum.label : ''",
            "tickSize": {"condition": {"test": "datum.value % 100 !== 0", "value": 10}, "value": 20},
            "labelPadding": 14,
            "titlePadding": 24,
            "titleX": 635
          }
        },
        "y": {
          "field": "t", "type": "quantitative",
          "scale": {"domain": [1690, 1700], "nice": false, "zero": false},
          "axis": {
            "title": "Temperature (K)",
            "labelFont": "Liberation Serif, Times New Roman, DejaVu Serif, serif",
            "titleFont": "Liberation Serif, Times New Roman, DejaVu Serif, serif",
            "values": [1690, 1690.5, 1691, 1691.5, 1692, 1692.5, 1693, 1693.5, 1694, 1694.5, 1695, 1695.5, 1696, 1696.5, 1697, 1697.5, 1698, 1698.5, 1699, 1699.5, 1700],
            "format": "d",
            "labelExpr": "datum.value % 1 === 0 ? datum.label : ''",
            "tickSize": {"condition": {"test": "datum.value % 1 !== 0", "value": 10}, "value": 20},
            "labelPadding": 16,
            "titlePadding": 15
          }
        },
        "color": {
          "field": "s", "type": "nominal",
          "scale": {
            "domain": ["80 mm", "120 mm", "160 mm", "200 mm", "240 mm", "280 mm", "360 mm"],
            "range": ["#4d4d4d", "#f53d3d", "#1a66e6", "#35ad6b", "#b373e0", "#d19b00", "#17cccc"]
          },
          "legend": {
            "orient": "none", "legendX": 1011, "legendY": 32, "title": null, "padding": 0,
            "symbolType": "M-1.9,0L1.9,0", "symbolSize": 3025, "symbolStrokeWidth": 8,
            "labelOffset": 36, "rowPadding": 2, "labelLimit": 400,
            "encode": {"symbols": {"update": {"strokeCap": {"value": "round"}}}}
          }
        }
      }
    }
  ]
}
